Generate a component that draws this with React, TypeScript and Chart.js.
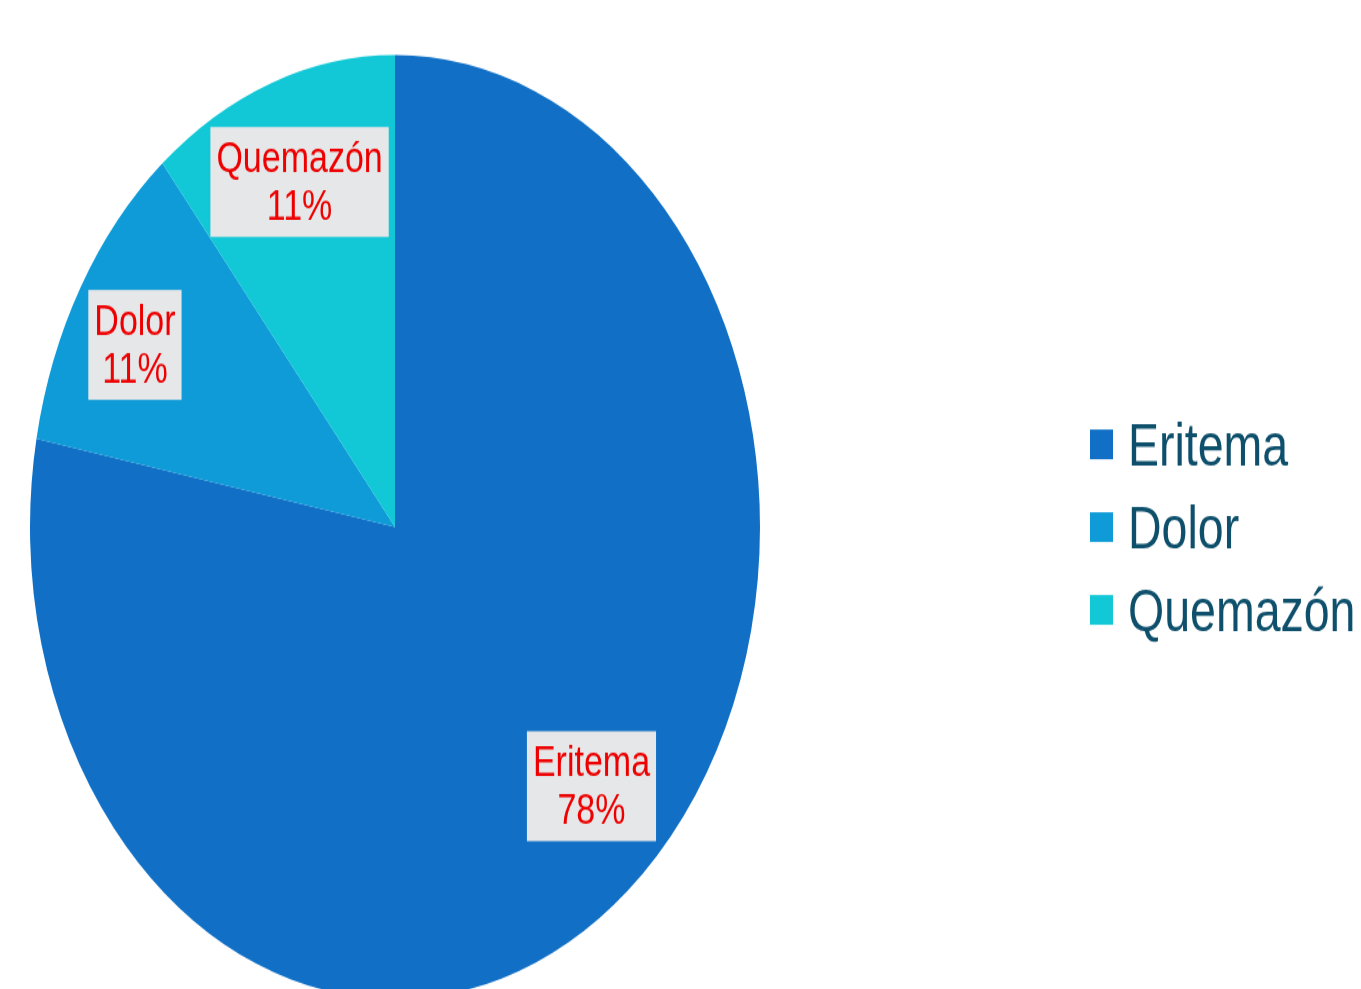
import React, { useEffect, useRef } from "react";
import { Chart, registerables } from "chart.js";

Chart.register(...registerables);

// ---- data ----
const categories = ["Eritema", "Dolor", "Quemazón"];
const values = [78, 11, 11];
const sliceColors = ["#1170C6", "#0E9BD8", "#12C8D6"];

// ---- styles / layout ----
const CANVAS_W = 1361;
const CANVAS_H = 800;
const STRETCH_Y = 1.2932;
const FONT = '"Liberation Sans", Arial, sans-serif';
const LABEL_RADIUS = 0.78;
const LABEL_NUDGE: number[][] = [
  [15, -19],
  [-15, 4],
  [1, 1],
];
const LABEL_FONT_SIZE = 34;
const LABEL_LINE_H = 37;
const LEGEND_FONT_SIZE = 46.5;
const LEGEND_ROW = 64;
const LEGEND_BOX_X = 1090;
const LEGEND_BOX = 23;
const LEGEND_TEXT_X = 1128;
const LEGEND_TEXT_COLOR = "#0E506C";

const labelPlugin = {
  id: "sliceLabels",
  afterDatasetsDraw(chart: any) {
    const ctx = chart.ctx as CanvasRenderingContext2D;
    const meta = chart.getDatasetMeta(0);
    const data = chart.data.datasets[0].data as number[];
    const total = data.reduce((a, b) => a + b, 0);
    meta.data.forEach((arc: any, i: number) => {
      const p = arc.getProps(["x", "y", "startAngle", "endAngle", "outerRadius"], true);
      const mid = (p.startAngle + p.endAngle) / 2;
      const r = p.outerRadius * LABEL_RADIUS;
      const cx = p.x + Math.cos(mid) * r + LABEL_NUDGE[i][0];
      const cy = p.y + Math.sin(mid) * r + LABEL_NUDGE[i][1];
      const lines = [String(chart.data.labels[i]), Math.round((data[i] / total) * 100) + "%"];
      ctx.save();
      ctx.font = `${LABEL_FONT_SIZE}px ${FONT}`;
      const w = Math.max(...lines.map((l) => ctx.measureText(l).width)) + 12;
      const h = LABEL_LINE_H * lines.length + 11;
      ctx.fillStyle = "#E6E7E8";
      ctx.fillRect(cx - w / 2, cy - h / 2, w, h);
      ctx.fillStyle = "#EE0000";
      ctx.textAlign = "center";
      ctx.textBaseline = "middle";
      lines.forEach((l, k) => {
        ctx.fillText(l, cx, cy + 1 + (k - (lines.length - 1) / 2) * LABEL_LINE_H);
      });
      ctx.restore();
    });
  },
};

const legendPlugin = {
  id: "sideLegend",
  afterDraw(chart: any) {
    const ctx = chart.ctx as CanvasRenderingContext2D;
    const meta = chart.getDatasetMeta(0);
    const centerY = meta.data[0].y;
    const labels = chart.data.labels as string[];
    const colors = chart.data.datasets[0].backgroundColor as string[];
    ctx.save();
    ctx.font = `${LEGEND_FONT_SIZE}px ${FONT}`;
    ctx.textAlign = "left";
    ctx.textBaseline = "alphabetic";
    labels.forEach((l, i) => {
      const cy = centerY + (i - (labels.length - 1) / 2) * LEGEND_ROW;
      ctx.fillStyle = colors[i];
      ctx.fillRect(LEGEND_BOX_X, cy - LEGEND_BOX / 2, LEGEND_BOX, LEGEND_BOX);
      ctx.fillStyle = LEGEND_TEXT_COLOR;
      ctx.fillText(l, LEGEND_TEXT_X, cy + LEGEND_FONT_SIZE * 0.716 / 2);
    });
    ctx.restore();
  },
};

export default function App() {
  const ref = useRef<HTMLCanvasElement | null>(null);

  useEffect(() => {
    if (!ref.current) return;
    const chart = new Chart(ref.current, {
      type: "pie",
      data: {
        labels: categories,
        datasets: [
          {
            data: values,
            backgroundColor: sliceColors,
            borderWidth: 0,
            hoverOffset: 0,
            offset: 0,
          } as any,
        ],
      },
      options: {
        responsive: false,
        animation: false,
        events: [],
        devicePixelRatio: 1,
        layout: {
          padding: { left: 30, right: 601, top: 42.6, bottom: 27.4 },
        },
        plugins: {
          legend: { display: false },
          tooltip: { enabled: false },
        },
      } as any,
      plugins: [labelPlugin, legendPlugin],
    });
    return () => chart.destroy();
  }, []);

  return (
    <div
      style={{
        position: "fixed",
        left: 0,
        top: 0,
        width: CANVAS_W,
        height: 989,
        overflow: "hidden",
        background: "#ffffff",
      }}
    >
      <div
        style={{
          width: CANVAS_W,
          height: CANVAS_H,
          transform: `scaleY(${STRETCH_Y})`,
          transformOrigin: "0 0",
        }}
      >
        <canvas ref={ref} width={CANVAS_W} height={CANVAS_H} style={{ display: "block" }} />
      </div>
    </div>
  );
}
